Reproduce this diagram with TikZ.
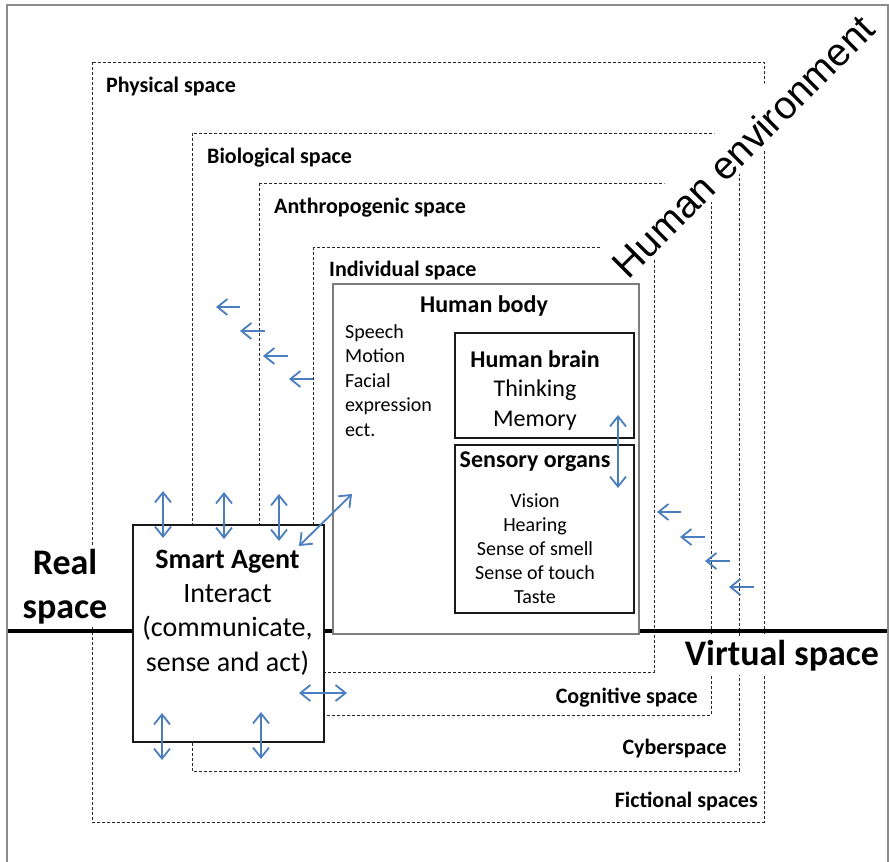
\documentclass[tikz,border=0pt]{standalone}
\usepackage{fontspec}
\setmainfont{Carlito}
\newfontfamily\arialf{Liberation Sans}
\usetikzlibrary{arrows.meta}
\definecolor{arrowblue}{RGB}{74,126,190}
\definecolor{framegray}{RGB}{140,140,140}
\definecolor{bodygray}{RGB}{125,125,125}
\begin{document}
\begin{tikzpicture}[x=1pt,y=-1pt,
  spaceline/.style={draw=black!85, line width=1pt, dash pattern=on 3pt off 2pt},
  lbl/.style={font=\bfseries\fontsize{22}{26}\selectfont, inner sep=0pt},
  bigl/.style={font=\bfseries\fontsize{36}{44}\selectfont},
  blk/.style={draw=black!90, line width=2pt, fill=white, inner sep=0pt},
  dbl/.style={draw=arrowblue, line width=1.8pt, {Straight Barb[length=10pt,width=16pt]}-{Straight Barb[length=10pt,width=16pt]}},
  sgl/.style={draw=arrowblue, line width=1.8pt, -{Straight Barb[length=10pt,width=16pt]}},
]
\useasboundingbox (0,0) rectangle (889,862);

% nested spaces
\draw[spaceline] (92,62) rectangle (764,822);
\draw[spaceline] (192,133) rectangle (739,771);
\draw[spaceline] (259,183) rectangle (711,715);
\draw[spaceline] (313,247) rectangle (654,672);

\node[lbl, anchor=base west] (phys) at (106,92) {Physical space};
\node[lbl, anchor=base west] (bio) at (207,163) {Biological space};
\node[lbl, anchor=base west] (anth) at (274,213) {Anthropogenic space};
\node[lbl, anchor=base west] (indiv) at (329,276) {Individual space};
\node[lbl, anchor=base east] (cogn) at (698,703) {Cognitive space};
\node[lbl, anchor=base east] (cyber) at (727,754) {Cyberspace};
\node[lbl, anchor=base east] (fict) at (758,807) {Fictional spaces};

\node[font=\arialf\fontsize{39}{45}\selectfont, rotate=45, anchor=base, fill=white,
      inner sep=0pt, inner xsep=2pt, text height=43pt, text depth=3pt] (henv) at (753,156) {Human environment};

\node[bigl, align=center, fill=white, inner sep=3pt] (real) at (65,587) {Real\\space};
\node[bigl, anchor=base, fill=white, inner ysep=4pt, inner xsep=2pt] (virt) at (782,665) {Virtual space};

% real / virtual divider
\coordinate (rl) at (7,631);
\coordinate (rr) at (888,631);
\draw[line width=4pt] (rl) -- (rr);

% frame
\draw[framegray, line width=2pt] (7,862) -- (7,5) -- (888,5) -- (888,862);

% human body
\node[draw=bodygray, line width=1.5pt, fill=white, minimum width=306pt, minimum height=350pt,
      inner sep=0pt, anchor=north west] (body) at (332,283) {};
\node[font=\bfseries\fontsize{24}{28}\selectfont, anchor=base, inner sep=0pt] (bodyl) at (484,312) {Human body};
\node[font=\fontsize{20}{24.5}\selectfont, align=left, anchor=base west, inner sep=0pt] (acts) at (345,436)
  {Speech\\Motion\\Facial\\expression\\ect.};

% brain
\node[blk, minimum width=179pt, minimum height=105pt, anchor=north west] (brain) at (454,332) {};
\node[font=\fontsize{24}{29.5}\selectfont, align=center, anchor=base, inner sep=0pt] (braint) at (535,426)
  {\textbf{Human brain}\\Thinking\\Memory};

% sensory organs
\node[blk, minimum width=179pt, minimum height=168pt, anchor=north west] (sens) at (454,444) {};
\node[font=\bfseries\fontsize{24}{28}\selectfont, anchor=base, inner sep=0pt] (sensl) at (535,467) {Sensory organs};
\node[font=\fontsize{20}{24}\selectfont, align=center, anchor=base, inner sep=0pt] (senses) at (535,603)
  {Vision\\Hearing\\Sense of smell\\Sense of touch\\Taste};

% smart agent
\node[blk, minimum width=191pt, minimum height=217pt, anchor=north west] (agent) at (132,524) {};
\node[font=\fontsize{28}{34.3}\selectfont, align=center, anchor=base, inner sep=0pt] (agentt) at (227.5,671)
  {\textbf{Smart Agent}\\Interact\\(communicate,\\sense and act)};

% arrow end points
\coordinate (l1s) at (240,307); \coordinate (l1e) at (216,307);
\coordinate (l2s) at (265,331); \coordinate (l2e) at (240,331);
\coordinate (l3s) at (288,356); \coordinate (l3e) at (263,356);
\coordinate (l4s) at (313,379); \coordinate (l4e) at (289,379);
\coordinate (r1s) at (681,512); \coordinate (r1e) at (657,512);
\coordinate (r2s) at (705,537); \coordinate (r2e) at (680,537);
\coordinate (r3s) at (730,561); \coordinate (r3e) at (705,561);
\coordinate (r4s) at (754,587); \coordinate (r4e) at (729,587);
\coordinate (v1a) at (163,491); \coordinate (v1b) at (163,538);
\coordinate (v2a) at (224,492); \coordinate (v2b) at (224,539);
\coordinate (v3a) at (279,494); \coordinate (v3b) at (279,541);
\coordinate (da) at (299,546);  \coordinate (db) at (352,494);
\coordinate (b1a) at (162,713); \coordinate (b1b) at (162,760);
\coordinate (b2a) at (261,712); \coordinate (b2b) at (261,759);
\coordinate (ha) at (299,693);  \coordinate (hb) at (347,693);
\coordinate (bsa) at (618,415); \coordinate (bsb) at (618,488);

\draw[sgl] (l1s) -- (l1e);
\draw[sgl] (l2s) -- (l2e);
\draw[sgl] (l3s) -- (l3e);
\draw[sgl] (l4s) -- (l4e);
\draw[sgl] (r1s) -- (r1e);
\draw[sgl] (r2s) -- (r2e);
\draw[sgl] (r3s) -- (r3e);
\draw[sgl] (r4s) -- (r4e);
\draw[dbl] (v1a) -- (v1b);
\draw[dbl] (v2a) -- (v2b);
\draw[dbl] (v3a) -- (v3b);
\draw[dbl] (da) -- (db);
\draw[dbl] (b1a) -- (b1b);
\draw[dbl] (b2a) -- (b2b);
\draw[dbl] (ha) -- (hb);
\draw[dbl] (bsa) -- (bsb);
\end{tikzpicture}
\end{document}
